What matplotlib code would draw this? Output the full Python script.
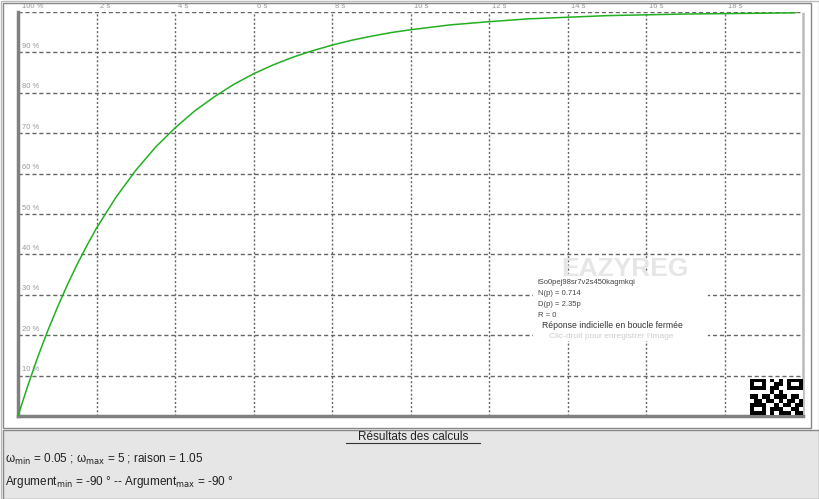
import numpy as np
import matplotlib
matplotlib.use("Agg")
import matplotlib.pyplot as plt
from matplotlib.patches import Rectangle

plt.rcParams['font.family'] = ['Liberation Sans', 'DejaVu Sans']

# step response (time in s, response in %)
t_s = [0, 0.25, 0.5, 0.75, 1, 1.25, 1.5, 1.75, 2, 2.5, 3, 3.5, 4, 4.5, 5,
       5.5, 6, 6.5, 7, 7.5, 8, 8.5, 9, 9.5, 10, 11, 12, 13, 14, 15, 16,
       17, 18, 19, 19.8]
resp = [0, 7.5, 14.5, 20.9, 26.8, 32.3, 37.4, 42.1, 46.5, 54.2, 60.8, 66.5,
        71.3, 75.5, 79.0, 82.1, 84.7, 86.9, 88.8, 90.4, 91.8, 93.0, 94.0,
        94.9, 95.6, 96.8, 97.6, 98.3, 98.7, 99.1, 99.3, 99.5, 99.6, 99.7,
        99.8]

y_ticks = [10, 20, 30, 40, 50, 60, 70, 80, 90, 100]
x_ticks = [2, 4, 6, 8, 10, 12, 14, 16, 18]

info_lines = ["iSo0pej98sr7v2s450kagmkqi", "N(p) = 0.714", "D(p) = 2.35p", "R = 0"]

# fake QR mark (bottom right corner)
qr = np.array([
    [1,1,1,1,0,1,0,1,0,1,1,1,1],
    [1,0,0,1,0,0,1,1,0,1,0,0,1],
    [1,1,1,1,0,1,1,0,0,1,1,1,1],
    [0,0,0,0,0,1,0,1,0,0,0,0,0],
    [1,1,0,1,1,0,1,1,1,0,1,1,0],
    [0,1,1,0,1,1,0,1,0,1,1,0,1],
    [1,1,1,1,0,0,1,0,1,1,0,1,1],
    [1,0,0,1,0,1,1,1,0,0,1,1,0],
    [1,1,1,1,0,1,0,1,1,1,0,1,1],
])

W, H = 819, 499
fig = plt.figure(figsize=(W / 100, H / 100), dpi=100)
fig.patch.set_facecolor('white')

def px(x0, y0, x1, y1):
    # pixel box (top-left origin) -> figure fraction rect
    return [x0 / W, 1 - y1 / H, (x1 - x0) / W, (y1 - y0) / H]

# outer frames
fig.patches.append(Rectangle((0.5 / W, 1 - 499 / H), 818 / W, 498 / H,
                             transform=fig.transFigure, fill=False,
                             edgecolor='#bbbbbb', lw=1))
fig.patches.append(Rectangle((3 / W, 1 - 428 / H), 808 / W, 425 / H,
                             transform=fig.transFigure, fill=False,
                             edgecolor='#888888', lw=1))
fig.patches.append(Rectangle((3 / W, 1 - 499 / H), 816 / W, 69 / H,
                             transform=fig.transFigure, facecolor='#e6e6e6',
                             edgecolor='#888888', lw=1))

ax = fig.add_axes(px(18, 12, 803, 416))
ax.set_xlim(0, 20)
ax.set_ylim(0, 100)
ax.set_facecolor('white')

for y in y_ticks:
    ax.axhline(y, color='#666666', lw=1, ls=(0, (3, 2)), zorder=1)
    ax.text(0.1, y + 0.6, f"{y} %", fontsize=5.5, color='#999999',
            ha='left', va='bottom', zorder=2)
for x in x_ticks:
    ax.axvline(x, color='#666666', lw=1, ls=(0, (1.5, 1.5)), zorder=1)
    ax.text(x + 0.08, 100.6, f"{x} s", fontsize=5.5, color='#999999',
            ha='left', va='bottom', zorder=2, clip_on=False)

ax.plot(t_s, resp, color='#22b022', lw=1.1, zorder=3)

ax.spines['top'].set_visible(False)
ax.spines['left'].set_color('#808080')
ax.spines['left'].set_linewidth(2.5)
ax.spines['bottom'].set_color('#808080')
ax.spines['bottom'].set_linewidth(2.5)
ax.spines['right'].set_color('#bbbbbb')
ax.spines['right'].set_linewidth(1.8)
ax.spines['right'].set_linestyle((0, (1, 1)))
ax.set_xticks([])
ax.set_yticks([])

# white box behind the info block hides the grid there
fig.patches.append(Rectangle((533 / W, 1 - 341 / H), 175 / W, 65 / H,
                             transform=fig.transFigure, facecolor='white',
                             edgecolor='none', zorder=5))

# watermark and info block
fig.text(625 / W, 1 - 269 / H, "EAZYREG", fontsize=19, fontweight='bold',
         color='#e6e6e6', ha='center', va='center', zorder=6)
for i, line in enumerate(info_lines):
    fig.text(538 / W, 1 - (283 + i * 10.8) / H, line, fontsize=5.5,
             color='#444444', ha='left', va='center', zorder=6)
fig.text(542 / W, 1 - 326 / H, "Réponse indicielle en boucle fermée",
         fontsize=6.2, color='#333333', ha='left', va='center', zorder=6)
fig.text(549 / W, 1 - 337 / H, "Clic-droit pour enregistrer l'image",
         fontsize=6, color='#cccccc', ha='left', va='center', zorder=6)

qax = fig.add_axes(px(750, 379, 803, 415))
qax.imshow(qr, cmap='Greys', aspect='auto', interpolation='nearest')
qax.axis('off')

# results panel
fig.text(413 / W, 1 - 437 / H, "Résultats des calculs", fontsize=8.5,
         color='#222222', ha='center', va='center')
fig.lines.append(plt.Line2D([346 / W, 480 / W], [1 - 443 / H, 1 - 443 / H],
                            transform=fig.transFigure, color='#333333', lw=0.8))
fig.text(5 / W, 1 - 459 / H,
         r"ω$_{\rm min}$ = 0.05 ; ω$_{\rm max}$ = 5 ; raison = 1.05",
         fontsize=8.5, color='#222222', ha='left', va='center')
fig.text(5 / W, 1 - 482 / H,
         r"Argument$_{\rm min}$ = -90 ° -- Argument$_{\rm max}$ = -90 °",
         fontsize=8.5, color='#222222', ha='left', va='center')

fig.savefig("out.png", dpi=100)
